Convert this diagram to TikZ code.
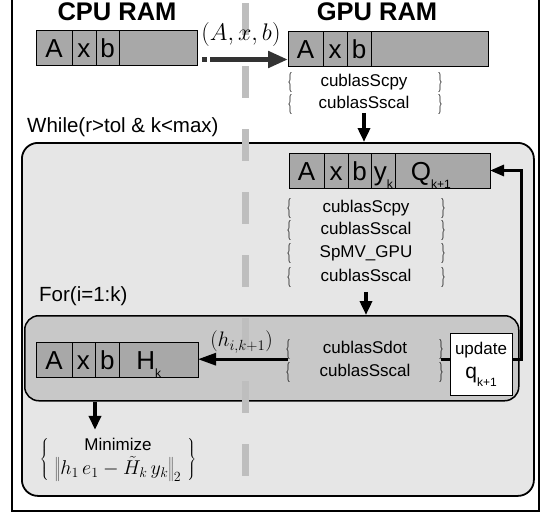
\documentclass[tikz,border=0pt]{standalone}
\usepackage{fix-cm}
\usepackage[no-math]{fontspec}
\setmainfont{Liberation Sans}
\usetikzlibrary{arrows.meta,positioning}

\definecolor{cellgray}{HTML}{A8A8A8}
\definecolor{whilegray}{HTML}{E6E6E6}
\definecolor{forgray}{HTML}{C8C8C8}
\definecolor{dashgray}{HTML}{BEBEBE}
\definecolor{xfergray}{HTML}{333333}

\newcommand{\fsz}[1]{\fontsize{#1}{#1}\selectfont}
\newcommand{\lowsub}[1]{\raisebox{-8pt}{\fsz{12}#1}}
\newcommand{\opl}{\scalebox{0.5}[1]{$\{$}}
\newcommand{\opr}{\scalebox{0.5}[1]{$\}$}}

\begin{document}
\begin{tikzpicture}[
    x=1pt, y=-1pt,
    cell/.style={draw, fill=cellgray, minimum height=35pt, inner sep=0pt,
        outer sep=0pt, text height=19pt, text depth=0pt, font=\fsz{26},
        line width=0.9pt},
    ramtitle/.style={font=\bfseries\fsz{25.5}, inner sep=0pt},
    optext/.style={font=\fsz{17}, text height=12pt, text depth=3.5pt, inner sep=1pt},
    opbrace/.style={font=\fsz{20}, inner sep=0pt},
    looplabel/.style={font=\fsz{20.5}, inner sep=0pt, anchor=west},
    loopbox/.style={draw, line width=1.8pt, rounded corners=16pt, anchor=north west},
    mathlabel/.style={font=\fsz{24}, inner sep=0pt},
    xferarrow/.style={-{Triangle[length=20pt,width=16pt]}, line width=5pt, xfergray},
    downarrow/.style={-{Triangle[length=14pt,width=12pt]}, line width=3.5pt},
    leftarrow/.style={-{Triangle[length=18pt,width=12pt]}, line width=3pt},
    backarrow/.style={-{Triangle[length=14pt,width=11pt]}, line width=3pt}
]
\useasboundingbox (0,0) rectangle (542,514);

% Frame
\draw[line width=1.3pt] (12,-5) -- (12,511) -- (539,511) -- (539,-5);

% Loop boxes
\node[loopbox, fill=whilegray, minimum width=512pt, minimum height=353pt] (whilebox) at (21,142) {};
\node[loopbox, fill=forgray, line width=1.5pt, rounded corners=14pt,
    minimum width=494pt, minimum height=85pt] (forbox) at (24,315) {};

% CPU / GPU split
\draw[dashgray, line width=7pt, dash pattern=on 32pt off 31pt] (245.5,3) -- (245.5,476);

% CPU RAM
\node[ramtitle] (cputitle) at (117,12) {CPU RAM};
\node[cell, minimum width=36pt, anchor=west] (cA) at (36,48) {A};
\node[cell, minimum width=24pt, right=0pt of cA] (cX) {x};
\node[cell, minimum width=23pt, right=0pt of cX] (cB) {b};
\node[cell, minimum width=78pt, right=0pt of cB] (cRest) {};

% GPU RAM
\node[ramtitle] (gputitle) at (377,12) {GPU RAM};
\node[cell, minimum width=35pt, anchor=west] (gA) at (288,48.5) {A};
\node[cell, minimum width=24pt, right=0pt of gA] (gX) {x};
\node[cell, minimum width=24pt, right=0pt of gX] (gB) {b};
\node[cell, minimum width=117pt, right=0pt of gB] (gRest) {};

% Copy to the GPU
\node[fill=xfergray, minimum size=5pt, inner sep=0pt] (xdot) at (204.5,59.5) {};
\draw[xferarrow, shorten <=3pt] (xdot.east) -- (xdot.east -| gA.west);
\node[mathlabel] (xfer) at (241,35) {$(A,x,b)$};

% Setup calls
\node[optext] (scpyA) at (364,82) {cublasScpy};
\node[optext] (sscalA) at (364,104) {cublasSscal};
\foreach \y in {82,104} {
    \node[opbrace] (gl\y) at (290,\y) {\opl};
    \node[opbrace] (gr\y) at (440,\y) {\opr};
}

% While loop
\node[looplabel] (whilelbl) at (27,127) {While(r>tol \& k<max)};
\draw[downarrow] (sscalA.south) -- (sscalA.south |- whilebox.north);

\node[cell, minimum width=35pt, anchor=west] (qA) at (289,170.5) {A};
\node[cell, minimum width=24pt, right=0pt of qA] (qX) {x};
\node[cell, minimum width=23pt, right=0pt of qX] (qB) {b};
\node[cell, minimum width=24.5pt, right=0pt of qB] (qY) {y\lowsub{k}};
\node[cell, minimum width=94.5pt, right=0pt of qY] (qQ) {Q\lowsub{k+1}\hspace*{24pt}};

\node[optext] (scpyB) at (366,208) {cublasScpy};
\node[optext] (sscalB) at (366,230) {cublasSscal};
\node[optext] (spmv) at (366,253) {SpMV\_GPU};
\node[optext] (sscalC) at (366,277) {cublasSscal};
\foreach \y in {208,230,253,277} {
    \node[opbrace] (ql\y) at (289,\y) {\opl};
    \node[opbrace] (qr\y) at (443,\y) {\opr};
}
\draw[downarrow, shorten <=6pt] (sscalC.south) -- (sscalC.south |- forbox.north);

% For loop
\node[looplabel] (forlbl) at (39,296) {For(i=1:k)};
\node[cell, minimum width=36pt, anchor=west] (hA) at (36,360) {A};
\node[cell, minimum width=23pt, right=0pt of hA] (hX) {x};
\node[cell, minimum width=24.5pt, right=0pt of hX] (hB) {b};
\node[cell, minimum width=78.5pt, right=0pt of hB] (hH) {H\lowsub{k}\hspace*{20pt}};

\node[optext] (sdot) at (365,349) {cublasSdot};
\node[optext] (sscalD) at (365,372) {cublasSscal};
\foreach \y in {349,372} {
    \node[opbrace] (fl\y) at (288,\y) {\opl};
    \node[opbrace] (fr\y) at (441,\y) {\opr};
}
\node[draw, fill=white, line width=1pt, minimum width=62pt, minimum height=62pt,
    inner sep=0pt, align=center, font=\fsz{17}] (upd) at (481,364)
    {update\\[7pt]{\fsz{21}q}\lowsub{k+1}};

\draw[line width=3pt] (fr349.south) -- (fr349.south -| upd.west);
\draw[backarrow] (fr349.south -| upd.east) -- ++(9,0) |- (qQ.east);
\draw[leftarrow] (fl349.south) -- (fl349.south -| hH.east);
\node[mathlabel, font=\fsz{21}] (hlabel) at (241.5,342) {$(h_{i,k+1})$};

% Least squares
\node[font=\fsz{20}, inner sep=0pt] (minim) at (118,459)
    {$\left\{\hspace{6pt}\begin{array}{@{}c@{}}\mbox{\fsz{17}Minimize}\\
    \left\|h_1\,e_1-\tilde{H}_k\,y_k\right\|_2\end{array}\hspace{6pt}\right\}$};
\draw[downarrow, shorten >=6pt] (hX.east |- forbox.south) -- (hX.east |- minim.north);

\end{tikzpicture}
\end{document}
